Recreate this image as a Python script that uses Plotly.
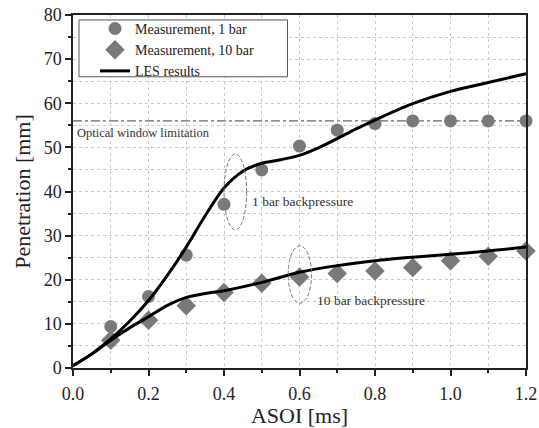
import plotly.graph_objects as go

# Measurement data
asoi_meas = [0.1, 0.2, 0.3, 0.4, 0.5, 0.6, 0.7, 0.8, 0.9, 1.0, 1.1, 1.2]
pen_1bar = [9.4, 16.2, 25.6, 37.1, 44.9, 50.3, 53.9, 55.4, 56.0, 56.0, 56.0, 56.0]
pen_10bar = [6.3, 10.8, 14.1, 17.1, 19.2, 20.6, 21.4, 22.0, 22.8, 24.3, 25.3, 26.5]

# LES results
asoi_les_1bar = [0.0, 0.05, 0.1, 0.15, 0.2, 0.25, 0.3, 0.35, 0.4, 0.45, 0.5, 0.55, 0.6, 0.65, 0.7, 0.75, 0.8, 0.9, 1.0, 1.1, 1.2]
les_1bar = [0.5, 3.2, 6.6, 10.6, 15.3, 21.0, 27.4, 34.5, 40.8, 44.6, 46.4, 47.2, 48.2, 49.9, 52.0, 54.2, 56.2, 59.9, 62.7, 64.7, 66.7]
asoi_les_10bar = [0.0, 0.05, 0.1, 0.15, 0.2, 0.25, 0.3, 0.35, 0.4, 0.5, 0.6, 0.7, 0.8, 0.9, 1.0, 1.1, 1.2]
les_10bar = [0.5, 3.2, 6.3, 9.1, 11.6, 14.2, 16.0, 16.9, 17.5, 19.4, 21.7, 23.2, 24.3, 25.1, 25.8, 26.5, 27.4]

optical_limit = 56.0

font_family = "Liberation Serif"
gray = "#797979"

fig = go.Figure()

fig.add_trace(go.Scatter(
    x=asoi_meas, y=pen_1bar, mode="markers", name="Measurement, 1 bar",
    marker=dict(symbol="circle", size=13, color=gray), cliponaxis=False,
))
fig.add_trace(go.Scatter(
    x=asoi_meas, y=pen_10bar, mode="markers", name="Measurement, 10 bar",
    marker=dict(symbol="diamond", size=15, color=gray), cliponaxis=False,
))
fig.add_trace(go.Scatter(
    x=asoi_les_1bar, y=les_1bar, mode="lines", name="LES results",
    line=dict(color="black", width=3, shape="spline", smoothing=0.8),
))
fig.add_trace(go.Scatter(
    x=asoi_les_10bar, y=les_10bar, mode="lines", name="LES results",
    line=dict(color="black", width=3, shape="spline", smoothing=0.8),
    showlegend=False,
))

# Optical window limitation line
fig.add_shape(type="line", xref="paper", yref="y", x0=0, x1=1,
              y0=optical_limit, y1=optical_limit,
              line=dict(color="#444", width=1, dash="dashdot"), layer="below")
fig.add_annotation(text="Optical window limitation", xref="paper", yref="y",
                   x=0.005, y=optical_limit - 0.6, xanchor="left", yanchor="top",
                   showarrow=False, font=dict(family=font_family, size=12.5, color="#333"))

# Legend frame (white box behind the legend entries)
fig.add_shape(type="rect", xref="paper", yref="paper", x0=0.0132, x1=0.4735, y0=0.825, y1=0.986,
              line=dict(color="#555", width=1), fillcolor="white", layer="above")

# Ellipses
fig.add_shape(type="circle", xref="x", yref="y", x0=0.40, x1=0.46, y0=31.3, y1=48.5,
              line=dict(color="#777", width=1, dash="4px,2px"))
fig.add_shape(type="circle", xref="x", yref="y", x0=0.570, x1=0.632, y0=14.7, y1=27.7,
              line=dict(color="#777", width=1, dash="4px,2px"))
fig.add_annotation(text="1 bar backpressure", x=0.468, y=37.7, xref="x", yref="y",
                   xanchor="left", yanchor="middle", showarrow=False,
                   font=dict(family=font_family, size=13.5, color="#333"))
fig.add_annotation(text="10 bar backpressure", x=0.64, y=15.2, xref="x", yref="y",
                   xanchor="left", yanchor="middle", showarrow=False,
                   font=dict(family=font_family, size=13.5, color="#333"))

axis_common = dict(
    showline=True, linecolor="#222", linewidth=1.5, mirror=True,
    ticks="outside", ticklen=6, tickwidth=1.5, tickcolor="#222",
    showgrid=True, gridcolor="#c8c8c8", griddash="dot", gridwidth=1,
    zeroline=False, automargin=False, ticklabeloverflow="allow",
    tickfont=dict(family=font_family, size=18, color="#222"),
)

fig.update_xaxes(
    range=[0, 1.2], dtick=0.2, tickformat=".1f", ticklabelstandoff=3,
    title=dict(text="ASOI [ms]", font=dict(family=font_family, size=22, color="#222"), standoff=7),
    minor=dict(dtick=0.1, ticks="outside", ticklen=3, tickcolor="#222",
               showgrid=True, gridcolor="#c8c8c8", griddash="dot"),
    **axis_common,
)
fig.update_yaxes(
    range=[0, 80], dtick=10,
    title=dict(text="Penetration [mm]", font=dict(family=font_family, size=22, color="#222"), standoff=7),
    minor=dict(dtick=5, ticks="outside", ticklen=3, tickcolor="#222",
               showgrid=True, gridcolor="#c8c8c8", griddash="dot"),
    **axis_common,
)

fig.update_layout(
    width=539, height=428,
    margin=dict(l=73, r=13, t=15, b=60),
    plot_bgcolor="white", paper_bgcolor="white",
    font=dict(family=font_family),
    legend=dict(
        x=0.0486, y=1.006, xanchor="left", yanchor="top",
        bgcolor="rgba(0,0,0,0)", borderwidth=0,
        font=dict(family=font_family, size=14, color="#222"),
        tracegroupgap=0, itemwidth=30,
    ),
)

# Remove the page's default body margin so the figure sits at the window origin
fig.write_html("out.html", config={"displayModeBar": False},
               post_script="document.body.style.margin='0px';document.body.style.overflow='hidden';")
